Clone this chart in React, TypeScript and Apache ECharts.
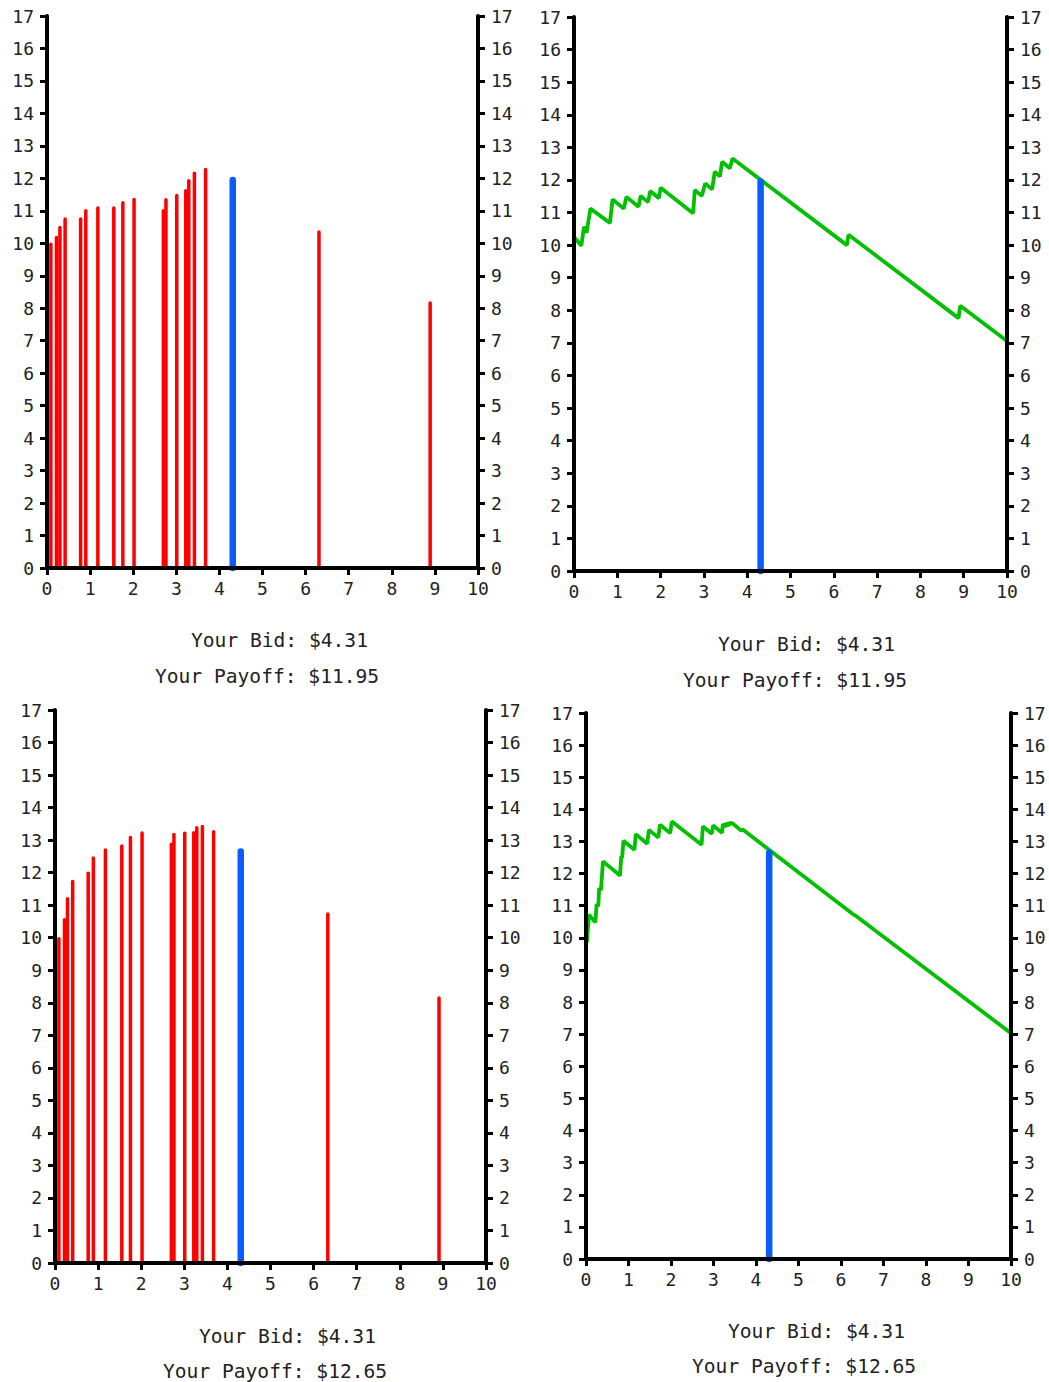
import React, { useEffect, useRef } from "react";
import * as echarts from "echarts";

// ---- data ----
const bidTopX = [0.09, 0.22, 0.3, 0.42, 0.78, 0.9, 1.18, 1.55, 1.76, 2.02, 2.7, 2.76, 3.01, 3.22, 3.29, 3.42, 3.68, 6.31, 8.89];
const bidTopH = [9.97, 10.18, 10.49, 10.75, 10.75, 11.0, 11.09, 11.09, 11.25, 11.35, 11.0, 11.34, 11.47, 11.62, 11.93, 12.16, 12.27, 10.35, 8.16];

const bidBotX = [0.09, 0.22, 0.29, 0.41, 0.77, 0.89, 1.17, 1.55, 1.75, 2.02, 2.7, 2.76, 3.01, 3.22, 3.29, 3.42, 3.68, 6.33, 8.91];
const bidBotH = [9.97, 10.55, 11.2, 11.73, 11.98, 12.45, 12.7, 12.82, 13.08, 13.22, 12.87, 13.17, 13.21, 13.23, 13.38, 13.42, 13.26, 10.73, 8.15];

const payoffTop: [number, number][] = [
  [0.0, 10.25], [0.17, 9.98], [0.23, 10.56], [0.29, 10.38], [0.38, 11.12], [0.83, 10.68], [0.89, 11.4],
  [1.15, 11.12], [1.21, 11.48], [1.49, 11.18], [1.54, 11.51], [1.71, 11.32], [1.76, 11.66], [1.96, 11.44],
  [2.0, 11.76], [2.75, 10.98], [2.79, 11.69], [2.95, 11.51], [3.03, 11.89], [3.19, 11.71], [3.25, 12.25],
  [3.37, 12.11], [3.42, 12.56], [3.6, 12.36], [3.66, 12.66], [6.3, 10.0], [6.34, 10.32], [8.88, 7.76],
  [8.92, 8.14], [10.0, 7.06],
];

const payoffBot: [number, number][] = [
  [0.02, 9.85], [0.07, 10.72], [0.22, 10.48], [0.25, 11.05], [0.29, 10.98], [0.31, 11.55], [0.35, 11.48],
  [0.4, 12.38], [0.8, 11.94], [0.83, 12.55], [0.85, 12.48], [0.88, 13.02], [1.14, 12.74], [1.17, 13.23],
  [1.44, 12.93], [1.48, 13.36], [1.7, 13.12], [1.74, 13.52], [1.98, 13.26], [2.02, 13.62], [2.72, 12.9],
  [2.75, 13.47], [2.96, 13.24], [2.99, 13.5], [3.2, 13.27], [3.22, 13.54], [3.28, 13.46], [3.3, 13.57],
  [3.36, 13.49], [3.38, 13.6], [3.41, 13.55], [3.43, 13.58], [3.66, 13.33], [3.68, 13.38], [6.3, 10.72],
  [6.33, 10.7], [10.0, 7.03],
];

const yourBid = 4.31;
const payoffs = [11.95, 12.65];
const bidTexts = ["Your Bid: $4.31", "Your Bid: $4.31", "Your Bid: $4.31", "Your Bid: $4.31"];
const payoffTexts = ["Your Payoff: $11.95", "Your Payoff: $11.95", "Your Payoff: $12.65", "Your Payoff: $12.65"];

const FONT = '"DejaVu Sans Mono", monospace';
const RED = "#ff0000";
const BLUE = "#0a5cff";
const GREEN = "#00c000";

const grids = [
  { left: 47, top: 16, width: 431, height: 552 },
  { left: 574, top: 17, width: 433, height: 554 },
  { left: 55, top: 710, width: 431, height: 553 },
  { left: 586, top: 713, width: 425, height: 546 },
];

const textPos = [
  { bx: 191, by: 640, px: 155, py: 676 },
  { bx: 718, by: 644, px: 683, py: 680 },
  { bx: 199, by: 1336, px: 163, py: 1371 },
  { bx: 728, by: 1331, px: 692, py: 1366 },
];

function stickRender(color: string, width: number) {
  return (params: any, api: any) => {
    const x = api.value(0);
    const h = api.value(1);
    const p0 = api.coord([x, 0]);
    const p1 = api.coord([x, h]);
    return {
      type: "line",
      shape: { x1: p0[0], y1: p0[1], x2: p1[0], y2: p1[1] },
      style: { stroke: color, lineWidth: width, lineCap: "round" },
    };
  };
}

export default function App() {
  const ref = useRef<HTMLDivElement>(null);
  useEffect(() => {
    if (!ref.current) return;
    const chart = echarts.init(ref.current, undefined, { renderer: "svg" });

    const axisLine = { show: true, onZero: false, lineStyle: { color: "#000", width: 4 } };
    const axisTick = { show: true, length: 7, lineStyle: { color: "#000", width: 3 } };
    const axisLabel = { fontFamily: FONT, fontSize: 18, color: "#222", margin: 12 };

    const xAxis: any[] = grids.map((_, i) => ({
      type: "value", gridIndex: i, min: 0, max: 10, interval: 1, position: "bottom",
      axisLine, axisTick, axisLabel: { ...axisLabel, margin: 11 }, splitLine: { show: false }, z: 5,
    }));
    const yAxis: any[] = [];
    grids.forEach((_, i) => {
      ["left", "right"].forEach((pos) => {
        yAxis.push({
          type: "value", gridIndex: i, min: 0, max: 17, interval: 1, position: pos,
          axisLine, axisTick, axisLabel: { ...axisLabel, margin: 13 }, splitLine: { show: false }, z: 5,
        });
      });
    });

    const series: any[] = [];
    [[bidTopX, bidTopH, 0, 0], [bidBotX, bidBotH, 2, 1]].forEach(([xs, hs, gi, pi]: any) => {
      series.push({
        type: "custom", xAxisIndex: gi, yAxisIndex: gi * 2, z: 3,
        renderItem: stickRender(RED, 3.5),
        encode: { x: 0, y: 1 },
        data: xs.map((x: number, k: number) => [x, hs[k]]),
      });
      series.push({
        type: "custom", xAxisIndex: gi, yAxisIndex: gi * 2, z: 4,
        renderItem: stickRender(BLUE, 6.5),
        encode: { x: 0, y: 1 },
        data: [[yourBid, payoffs[pi]]],
      });
    });
    [[payoffTop, 1, 0], [payoffBot, 3, 1]].forEach(([pts, gi, pi]: any) => {
      series.push({
        type: "line", xAxisIndex: gi, yAxisIndex: gi * 2, z: 3,
        data: pts, showSymbol: false, symbol: "none",
        lineStyle: { color: GREEN, width: 3.8 },
      });
      series.push({
        type: "custom", xAxisIndex: gi, yAxisIndex: gi * 2, z: 4,
        renderItem: stickRender(BLUE, 6.5),
        encode: { x: 0, y: 1 },
        data: [[yourBid, payoffs[pi]]],
      });
    });

    const graphic: any[] = [];
    textPos.forEach((p, i) => {
      graphic.push({
        type: "text", x: p.bx, y: p.by,
        style: { text: bidTexts[i], font: `19.6px ${FONT}`, fill: "#222", textAlign: "left", textVerticalAlign: "middle" },
      });
      graphic.push({
        type: "text", x: p.px, y: p.py,
        style: { text: payoffTexts[i], font: `19.6px ${FONT}`, fill: "#222", textAlign: "left", textVerticalAlign: "middle" },
      });
    });

    chart.setOption({
      animation: false,
      backgroundColor: "#fff",
      grid: grids.map((g) => ({ ...g, containLabel: false })),
      xAxis,
      yAxis,
      series,
      graphic,
    });
    return () => chart.dispose();
  }, []);

  return (
    <div
      ref={ref}
      style={{ position: "absolute", left: 0, top: 0, width: 1049, height: 1382 }}
    />
  );
}
